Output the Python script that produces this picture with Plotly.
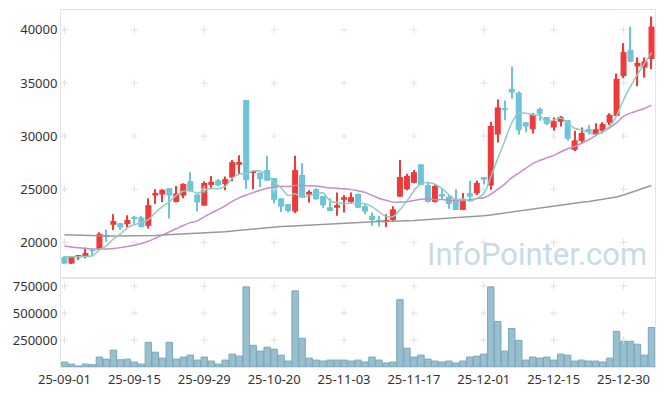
import numpy as np
import plotly.graph_objects as go
from plotly.subplots import make_subplots

dates = [
    "25-09-01", "25-09-02", "25-09-03", "25-09-04", "25-09-05",
    "25-09-08", "25-09-09", "25-09-10", "25-09-11", "25-09-12",
    "25-09-15", "25-09-16", "25-09-17", "25-09-18", "25-09-19",
    "25-09-22", "25-09-23", "25-09-24", "25-09-25", "25-09-26",
    "25-09-29", "25-09-30", "25-10-01", "25-10-02", "25-10-10",
    "25-10-13", "25-10-14", "25-10-15", "25-10-16", "25-10-17",
    "25-10-20", "25-10-21", "25-10-22", "25-10-23", "25-10-24",
    "25-10-27", "25-10-28", "25-10-29", "25-10-30", "25-10-31",
    "25-11-03", "25-11-04", "25-11-05", "25-11-06", "25-11-07",
    "25-11-10", "25-11-11", "25-11-12", "25-11-13", "25-11-14",
    "25-11-17", "25-11-18", "25-11-19", "25-11-20", "25-11-21",
    "25-11-24", "25-11-25", "25-11-26", "25-11-27", "25-11-28",
    "25-12-01", "25-12-02", "25-12-03", "25-12-04", "25-12-05",
    "25-12-08", "25-12-09", "25-12-10", "25-12-11", "25-12-12",
    "25-12-15", "25-12-16", "25-12-17", "25-12-18", "25-12-19",
    "25-12-22", "25-12-23", "25-12-24", "25-12-26", "25-12-29",
    "25-12-30", "26-01-02", "26-01-05", "26-01-06", "26-01-07",
]

opens = [18600, 18000, 18600, 18700, 19250, 19350, 20600, 21650, 21800, 21700,
         22300, 22350, 21550, 24400, 24500, 25100, 23800, 24400, 25750, 24500,
         23450, 25400, 25850, 25500, 26100, 27300, 33400, 26550, 26550, 26800,
         26050, 24150, 23600, 22900, 26350, 24500, 25000, 24350, 23300, 23250,
         24000, 23800, 24550, 23400, 22500, 22100, 21950, 22100, 24300, 25000,
         25600, 27350, 25400, 23800, 24550, 24300, 24100, 23050, 24650, 24600,
         26150, 25350, 30150, 32650, 34450, 34100, 31300, 30650, 32550, 31800,
         30800, 31350, 31500, 28700, 29550, 30650, 30150, 30500, 31250, 31900,
         35650, 38100, 36550, 36450, 37250]
highs = [18700, 18700, 18800, 19500, 19350, 20950, 21200, 22650, 21800, 22550,
         22500, 22500, 24150, 25000, 25000, 25100, 25300, 25550, 26600, 24500,
         25750, 26250, 25950, 26200, 27750, 28200, 33400, 26750, 26550, 28150,
         26050, 24150, 23600, 28150, 27450, 24900, 25100, 24350, 24150, 24700,
         24450, 24700, 24600, 23600, 22800, 22500, 22650, 23400, 27750, 26450,
         26800, 27350, 25650, 25400, 25100, 24450, 25000, 24650, 25800, 25800,
         26150, 31350, 33450, 33350, 36550, 34200, 31300, 32150, 32700, 31800,
         31750, 31900, 31500, 30500, 30800, 31050, 31200, 31300, 32150, 35900,
         38750, 40300, 37400, 37400, 41250]
lows = [17950, 17950, 18350, 18500, 18700, 19350, 20050, 21150, 21150, 21400,
        21750, 21400, 21300, 23600, 23800, 22250, 23750, 24150, 24750, 22900,
        23450, 25000, 25250, 24900, 25750, 26400, 25050, 25000, 25200, 25800,
        23650, 22850, 22800, 22750, 24200, 23750, 24000, 23250, 22950, 22500,
        22800, 23650, 23200, 22650, 21550, 21500, 21450, 22000, 24300, 24900,
        25550, 25400, 23750, 23750, 24050, 23150, 23050, 23050, 23900, 24450,
        25450, 24950, 29400, 31500, 33550, 30150, 30350, 30250, 31450, 31050,
        30500, 30900, 29550, 28600, 29300, 30150, 30050, 30250, 31050, 31900,
        35450, 36950, 34700, 35500, 36300]
closes = [18000, 18650, 18800, 19000, 19200, 20800, 20550, 22000, 21400, 22100,
          22250, 21450, 23500, 24650, 24950, 24400, 24600, 25500, 24850, 23750,
          25600, 25700, 25350, 25950, 27550, 27550, 25850, 26650, 25950, 25800,
          24000, 23350, 22950, 26800, 24200, 24750, 24050, 23500, 22950, 23500,
          24250, 24250, 23250, 22900, 22100, 21900, 22100, 23100, 26150, 26250,
          26600, 25400, 23800, 25300, 24300, 23600, 23050, 24100, 24300, 25600,
          25900, 30950, 32700, 32500, 34100, 30550, 30900, 32000, 32100, 31150,
          31400, 31800, 29750, 29600, 30300, 30350, 30650, 31150, 32000, 35400,
          37900, 37000, 36900, 37050, 40300]
volumes = [46000, 27000, 9000, 27000, 21000, 92000, 73000, 156000, 67000, 73000,
           46000, 27000, 229000, 137000, 82000, 229000, 73000, 92000, 110000, 64000,
           92000, 55000, 27000, 64000, 119000, 101000, 742000, 201000, 147000, 183000,
           165000, 110000, 55000, 705000, 266000, 82000, 64000, 55000, 64000, 64000,
           64000, 55000, 64000, 46000, 92000, 64000, 37000, 46000, 623000, 174000,
           92000, 110000, 73000, 55000, 46000, 55000, 37000, 55000, 92000, 101000,
           119000, 742000, 421000, 147000, 357000, 247000, 64000, 92000, 82000, 92000,
           64000, 119000, 110000, 55000, 64000, 55000, 55000, 46000, 82000, 330000,
           238000, 238000, 211000, 110000, 366000]

# closes before the visible window (for the 5-day average)
prior_closes = [18600, 18900, 18800, 18900]
# 20-day average for the first days (window starts before the visible range)
ma20_head = [19620, 19560, 19480, 19420, 19380, 19360, 19370, 19420, 19500, 19600,
             19720, 19880, 20100, 20380, 20680, 20980, 21280, 21580, 21850]
# long moving average (gray)
ma_long = [20716, 20687, 20659, 20631, 20603, 20593, 20593, 20593, 20593, 20593,
           20593, 20603, 20621, 20650, 20687, 20716, 20744, 20772, 20800, 20829,
           20857, 20885, 20942, 20998, 21064, 21130, 21196, 21252, 21309, 21365,
           21441, 21478, 21516, 21554, 21591, 21629, 21667, 21704, 21742, 21780,
           21817, 21855, 21893, 21930, 21949, 21959, 21968, 21977, 21996, 22024,
           22053, 22090, 22128, 22166, 22203, 22241, 22288, 22335, 22382, 22429,
           22495, 22571, 22665, 22759, 22853, 22966, 23079, 23173, 23258, 23343,
           23428, 23512, 23597, 23682, 23766, 23851, 23945, 24039, 24143, 24265,
           24454, 24661, 24877, 25113, 25348]

price_ticks = [20000, 25000, 30000, 35000, 40000]
volume_ticks = [250000, 500000, 750000]
date_ticks = dates[::10]

n = len(dates)
all_closes = prior_closes + closes
ma5 = [float(np.mean(all_closes[i:i + 5])) for i in range(n)]
ma20 = ma20_head + [float(np.mean(closes[i - 19:i + 1])) for i in range(19, n)]

RED = "#ee3a3a"
BLUE = "#6dc3da"
colors = [RED if c >= o else BLUE for o, c in zip(opens, closes)]
body_base = [min(o, c) for o, c in zip(opens, closes)]
body_h = [max(abs(c - o), 45) for o, c in zip(opens, closes)]
wick_h = [h - l for h, l in zip(highs, lows)]

fig = make_subplots(rows=2, cols=1, shared_xaxes=True, vertical_spacing=0,
                    row_heights=[268, 89])

# grid "+" markers
cross = dict(symbol="cross-thin", size=5, line=dict(width=1, color="#e0e0e0"))
gx = [d for d in date_ticks for _ in price_ticks]
gy = [p for _ in date_ticks for p in price_ticks]
fig.add_trace(go.Scatter(x=gx, y=gy, mode="markers", hoverinfo="skip",
                         marker=cross), row=1, col=1)
gx2 = [d for d in date_ticks for _ in volume_ticks]
gy2 = [v for _ in date_ticks for v in volume_ticks]
fig.add_trace(go.Scatter(x=gx2, y=gy2, mode="markers", hoverinfo="skip",
                         marker=cross), row=2, col=1)

fig.add_trace(go.Bar(x=dates, y=wick_h, base=lows, width=0.17,
                     marker=dict(color=colors, line=dict(width=0))), row=1, col=1)
fig.add_trace(go.Bar(x=dates, y=body_h, base=body_base, width=0.86,
                     marker=dict(color=colors, line=dict(width=0))), row=1, col=1)

fig.add_trace(go.Scatter(x=dates, y=ma_long, mode="lines",
                         line=dict(color="#999999", width=1.5)), row=1, col=1)
fig.add_trace(go.Scatter(x=dates, y=ma20, mode="lines", line_shape="spline",
                         line=dict(color="#c98bc6", width=1.5)), row=1, col=1)
fig.add_trace(go.Scatter(x=dates, y=ma5, mode="lines", line_shape="spline",
                         line=dict(color="#8dcdc0", width=1.5)), row=1, col=1)

fig.add_trace(go.Bar(x=dates, y=volumes, width=0.92,
                     marker=dict(color="#98bfcf", line=dict(width=1, color="#7ba7ba"))),
              row=2, col=1)

axis_font = dict(family="Noto Sans", size=13, color="#333333")
frame = dict(showline=True, mirror=True, linecolor="#e4e4e4", linewidth=1,
             showgrid=False, zeroline=False, ticks="", automargin=False)

fig.update_xaxes(type="category", categoryorder="array", categoryarray=dates,
                 range=[-0.5, n - 0.5], tickvals=date_ticks, ticktext=date_ticks,
                 tickfont=axis_font, **frame)
fig.update_xaxes(showticklabels=False, row=1, col=1)
fig.update_yaxes(range=[16640, 41870], tickvals=price_ticks,
                 ticktext=[str(v) for v in price_ticks], tickfont=axis_font,
                 row=1, col=1, **frame)
fig.update_yaxes(range=[0, 824000], tickvals=volume_ticks,
                 ticktext=[str(v) for v in volume_ticks], tickfont=axis_font,
                 row=2, col=1, **frame)

fig.add_annotation(text="InfoPointer.com", xref="paper", yref="paper",
                   x=0.99, y=0.315, xanchor="right", yanchor="middle",
                   showarrow=False,
                   font=dict(family="Roboto", size=31, color="#c8dbe5"))

fig.update_layout(width=665, height=396, barmode="overlay", showlegend=False,
                  margin=dict(l=61, r=10, t=10, b=29),
                  paper_bgcolor="white", plot_bgcolor="white")

fig.write_html("out.html", config={"displayModeBar": False},
               post_script="document.body.style.margin='0';"
                           "document.body.style.overflow='hidden';")
